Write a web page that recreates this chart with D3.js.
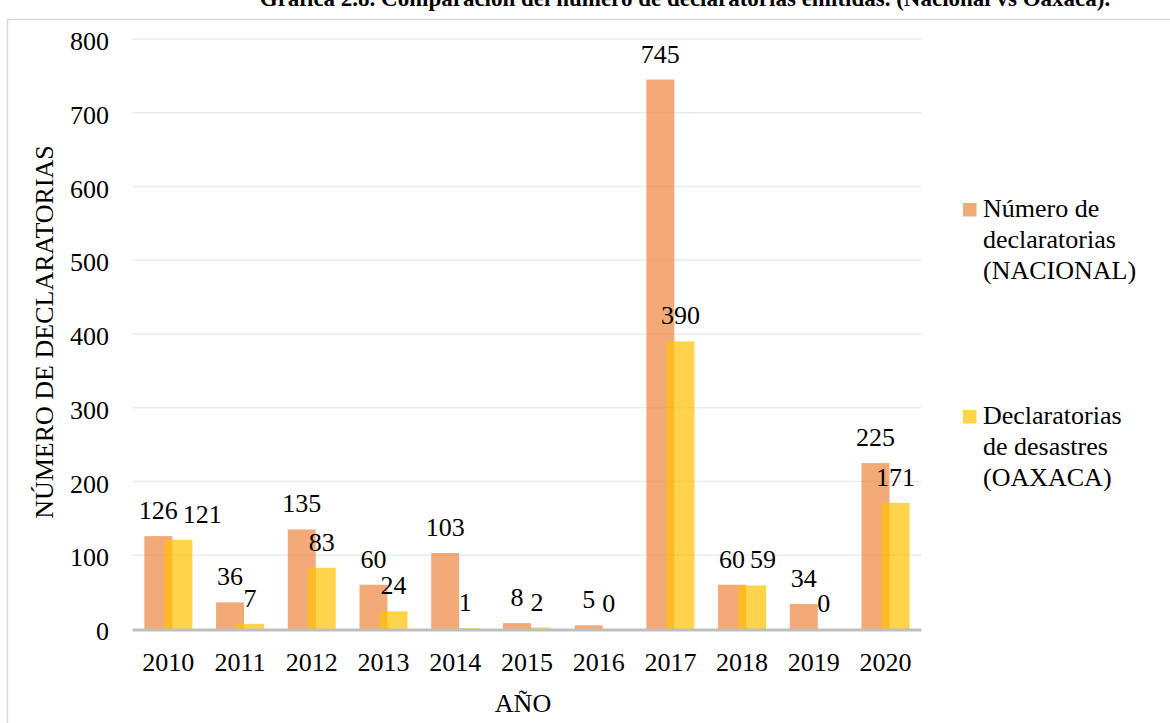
<!DOCTYPE html>
<html><head><meta charset="utf-8">
<script src="https://cdn.jsdelivr.net/npm/d3@7"></script>
<style>
html,body{margin:0;padding:0;background:#fff;overflow:hidden}
svg text{font-family:"Liberation Serif","Times New Roman",serif;fill:#000}
</style></head>
<body><svg id="c" width="1170" height="723"></svg>
<script>
const years = ["2010","2011","2012","2013","2014","2015","2016","2017","2018","2019","2020"];
const nacional = [126,36,135,60,103,8,5,745,60,34,225];
const oaxaca = [121,7,83,24,1,2,0,390,59,0,171];
const seriesNames = [["Número de","declaratorias","(NACIONAL)"],["Declaratorias","de desastres","(OAXACA)"]];
const yTicks = [0,100,200,300,400,500,600,700,800];
const titleText = "Gráfica 2.8. Comparación del número de declaratorias emitidas. (Nacional vs Oaxaca).";
const yTitle = "NÚMERO DE DECLARATORIAS";
const xTitle = "AÑO";

const svg = d3.select("#c");
const colors = ["rgba(237,125,49,0.65)","rgba(255,192,0,0.7)"];

// frame
svg.append("rect").attr("x",7.5).attr("y",19.5).attr("width",1200).attr("height",800)
  .attr("fill","none").attr("stroke","#d9d9d9").attr("stroke-width",1.5);

svg.append("text").attr("x",685).attr("y",6).attr("text-anchor","middle")
  .style("font-weight","bold").style("font-size","23px").text(titleText);

const x = d3.scaleBand().domain(years).range([132.5,921.4]);
const y = d3.scaleLinear().domain([0,800]).range([629,39]);
const bw = x.bandwidth();
const barW = bw*0.39, ov = bw*0.11;

// gridlines
svg.append("g").selectAll("line").data(yTicks.filter(d=>d>0)).join("line")
  .attr("x1",132.5).attr("x2",921.4).attr("y1",d=>y(d)).attr("y2",d=>y(d))
  .attr("stroke","#ebebeb").attr("stroke-width",1.5);

// y tick labels
svg.append("g").selectAll("text").data(yTicks).join("text")
  .attr("x",109).attr("y",d=>y(d)+2).attr("dy","0.35em").attr("text-anchor","end")
  .style("font-size","26px").text(d=>d);

const series = [nacional, oaxaca];
const offs = [-(barW*2-ov)/2, -(barW*2-ov)/2 + barW - ov];
series.forEach((vals,si)=>{
  svg.append("g").selectAll("rect").data(years).join("rect")
    .attr("x",(d)=>x(d)+bw/2+offs[si]).attr("width",barW)
    .attr("y",(d,i)=>y(vals[i])).attr("height",(d,i)=>y(0)-y(vals[i]))
    .attr("fill",colors[si]);
});

// baseline
svg.append("line").attr("x1",132.5).attr("x2",921.4).attr("y1",y(0)+1).attr("y2",y(0)+1)
  .attr("stroke","#bfbfbf").attr("stroke-width",3);

// data labels
const lg = svg.append("g").style("font-size","26px");
years.forEach((yr,i)=>{
  const c0 = x(yr)+bw/2+offs[0]+barW/2;
  const c1 = x(yr)+bw/2+offs[1]+barW/2;
  const b0 = y(nacional[i])-17, b1 = y(oaxaca[i])-17;
  const t0 = lg.append("text").attr("x",c0).attr("y",b0).attr("text-anchor","middle").text(nacional[i]);
  const t1 = lg.append("text").attr("x",c1).attr("y",b1).attr("text-anchor","middle").text(oaxaca[i]);
  const r0 = t0.node().getBBox(), r1 = t1.node().getBBox();
  if (Math.abs(b0-b1) < 18 && r1.x < r0.x + r0.width + 5) {
    t1.attr("x", c1 + (r0.x + r0.width + 5 - r1.x));
  }
});

// x tick labels
svg.append("g").selectAll("text").data(years).join("text")
  .attr("x",d=>x(d)+bw/2).attr("y",671).attr("text-anchor","middle")
  .style("font-size","26px").text(d=>d);

// axis titles
svg.append("text").attr("transform","translate(53,332) rotate(-90)").attr("text-anchor","middle")
  .style("font-size","26px").text(yTitle);
svg.append("text").attr("x",523).attr("y",712).attr("text-anchor","middle")
  .style("font-size","26px").text(xTitle);

// legend
const legY = [203, 410];
seriesNames.forEach((lines,si)=>{
  svg.append("rect").attr("x",963).attr("y",legY[si]).attr("width",13.5).attr("height",13.5).attr("fill",colors[si]);
  lines.forEach((ln,li)=>{
    svg.append("text").attr("x",983).attr("y",legY[si]+14+li*31).style("font-size","26px").text(ln);
  });
});
</script></body></html>
